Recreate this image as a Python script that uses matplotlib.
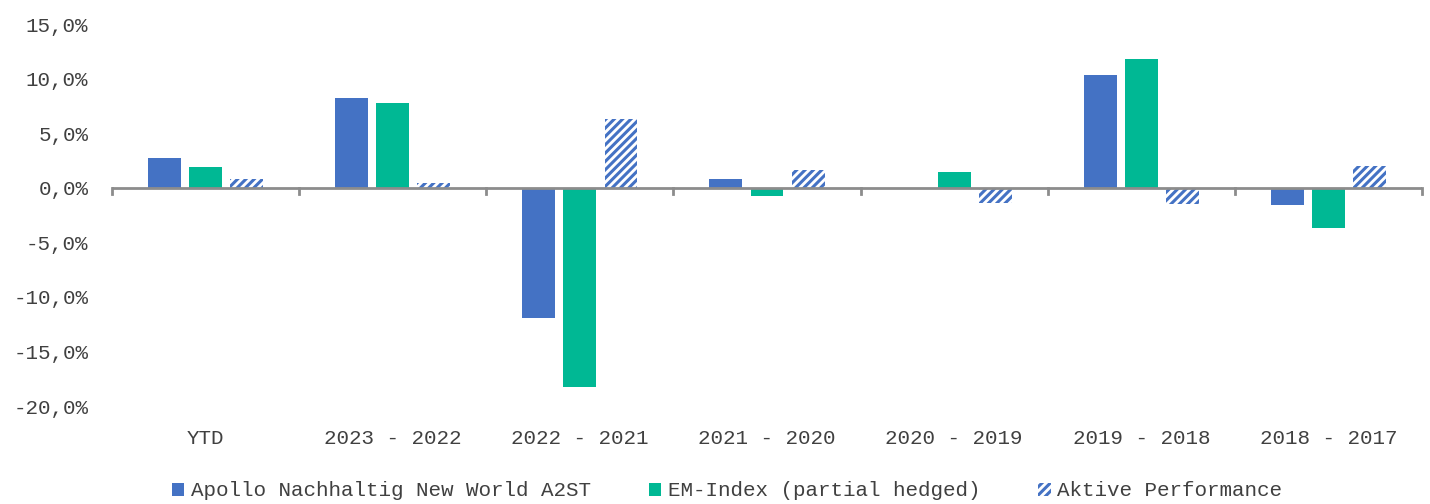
import matplotlib
matplotlib.use("Agg")
import matplotlib.pyplot as plt
import numpy as np
from matplotlib.patches import Patch

categories = ["YTD", "2023 - 2022", "2022 - 2021", "2021 - 2020",
              "2020 - 2019", "2019 - 2018", "2018 - 2017"]
fund = [2.7, 8.2, -11.9, 0.8, 0.0, 10.3, -1.6]
index = [1.9, 7.8, -18.3, -0.8, 1.4, 11.8, -3.7]
active = [0.8, 0.4, 6.3, 1.6, -1.4, -1.5, 2.0]
series_names = ["Apollo Nachhaltig New World A2ST",
                "EM-Index (partial hedged)",
                "Aktive Performance"]
yticks = [15, 10, 5, 0, -5, -10, -15, -20]

BLUE = "#4472C4"
GREEN = "#00B894"
TEXT = "#404040"
AXIS = "#8C8C8C"
FS = 15

plt.rcParams["font.family"] = ["Liberation Mono", "DejaVu Sans Mono"]
plt.rcParams["hatch.linewidth"] = 2.2

fig = plt.figure(figsize=(14.3, 5.04), dpi=100)
ax = fig.add_axes([112 / 1430, 1 - 406 / 504, (1422 - 112) / 1430, (406 - 24) / 504])

x = np.arange(len(categories))
w = 0.176
step = 0.22
ax.bar(x - step, fund, w, color=BLUE, linewidth=0, zorder=2)
ax.bar(x, index, w, color=GREEN, linewidth=0, zorder=2)
ax.bar(x + step, active, w, facecolor="white", edgecolor=BLUE,
       hatch="////", linewidth=0, zorder=2)

ax.set_xlim(-0.5, len(categories) - 0.5)
ax.set_ylim(-20, 15)
ax.set_yticks(yticks)
ax.set_yticklabels([f"{v:.1f}%".replace(".", ",") for v in yticks])

for s in ax.spines.values():
    s.set_visible(False)
ax.tick_params(axis="y", length=0, labelsize=FS, labelcolor=TEXT, pad=17)
ax.set_xticks([])

# category axis drawn at zero with boundary ticks
ax.axhline(0, color=AXIS, linewidth=2, zorder=3)
bounds = np.arange(len(categories) + 1) - 0.5
trans = ax.get_xaxis_transform()
for b in bounds:
    ax.plot([b, b], [0, -0.55], color=AXIS, linewidth=2, zorder=3, clip_on=False)
for xi, c in zip(x, categories):
    ax.text(xi, -0.085, c, transform=trans, ha="center", va="center",
            fontsize=FS, color=TEXT)

handles = [Patch(facecolor=BLUE, edgecolor="none"),
           Patch(facecolor=GREEN, edgecolor="none"),
           Patch(facecolor="white", edgecolor=BLUE, hatch="////", linewidth=0)]
fig.legend(handles, series_names, loc="center",
           bbox_to_anchor=(727 / 1430, 1 - 491 / 504), ncol=3, frameon=False,
           fontsize=FS, labelcolor=TEXT, handlelength=0.6, handleheight=0.6,
           handletextpad=0.3, columnspacing=2.8)

fig.savefig("out.png", dpi=100)
